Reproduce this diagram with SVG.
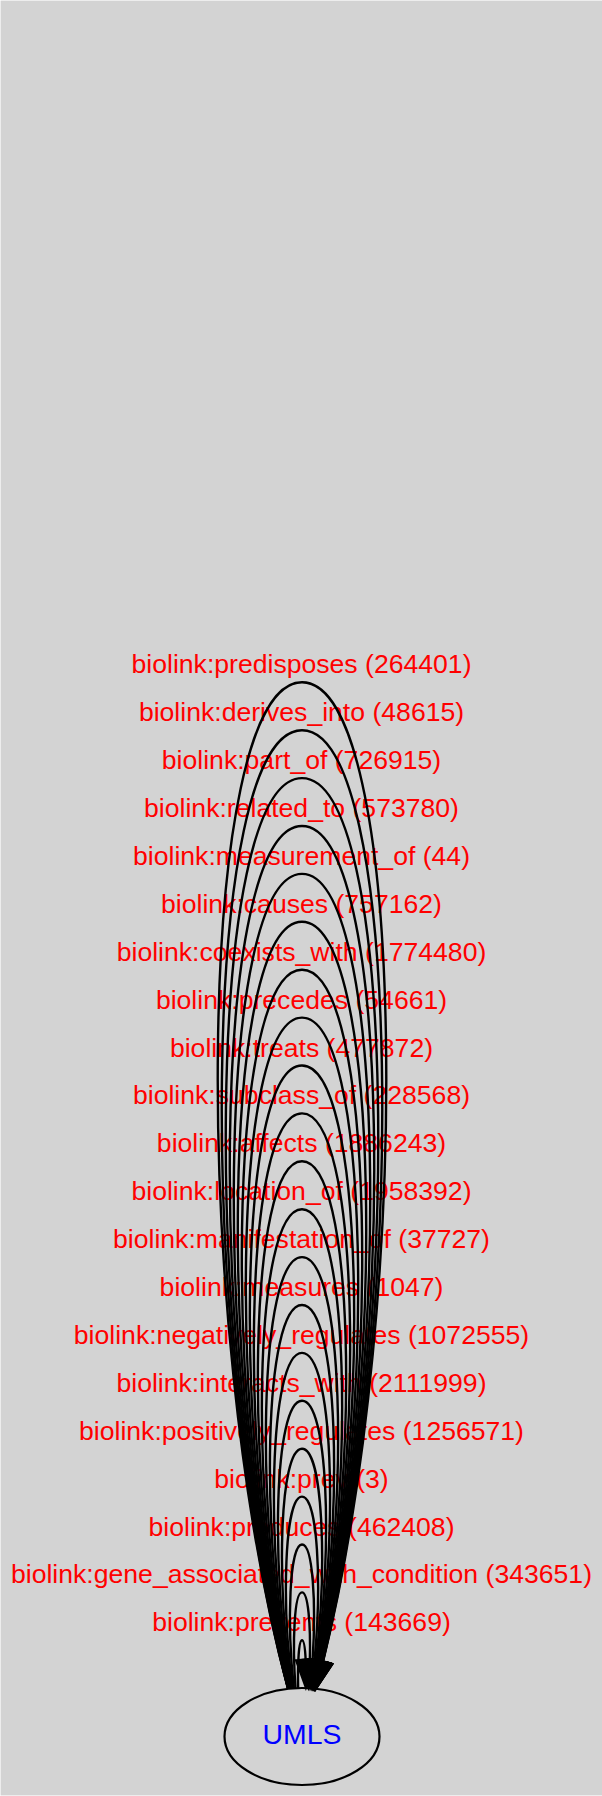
<svg xmlns="http://www.w3.org/2000/svg" width="602" height="1796" viewBox="0 0 602 1796">
<style>
.bg{fill:#d3d3d3;stroke:none}
.lbl{font-family:"Liberation Sans",Arial,Helvetica,sans-serif;font-size:26.6px;fill:#ff0000;text-anchor:middle}
.edge path{fill:none;stroke:#000;stroke-width:2.4}
.edge polygon{fill:#000;stroke:#000;stroke-width:2}
.node ellipse{fill:none;stroke:#000;stroke-width:2.2}
.node text{font-family:"Liberation Sans",Arial,Helvetica,sans-serif;font-size:28.4px;fill:#0000ff;text-anchor:middle}
</style>
<rect class="bg" x="0.6" y="0.6" width="601.4" height="1794.8"/>
<g id="edge-labels">
<text class="lbl" x="301.5" y="673.3">biolink:predisposes (264401)</text>
<text class="lbl" x="301.5" y="721.2">biolink:derives_into (48615)</text>
<text class="lbl" x="301.5" y="769.1">biolink:part_of (726915)</text>
<text class="lbl" x="301.5" y="817">biolink:related_to (573780)</text>
<text class="lbl" x="301.5" y="864.9">biolink:measurement_of (44)</text>
<text class="lbl" x="301.5" y="912.8">biolink:causes (757162)</text>
<text class="lbl" x="301.5" y="960.7">biolink:coexists_with (1774480)</text>
<text class="lbl" x="301.5" y="1008.6">biolink:precedes (54661)</text>
<text class="lbl" x="301.5" y="1056.5">biolink:treats (477872)</text>
<text class="lbl" x="301.5" y="1104.4">biolink:subclass_of (228568)</text>
<text class="lbl" x="301.5" y="1152.3">biolink:affects (1886243)</text>
<text class="lbl" x="301.5" y="1200.2">biolink:location_of (1958392)</text>
<text class="lbl" x="301.5" y="1248.1">biolink:manifestation_of (37727)</text>
<text class="lbl" x="301.5" y="1296">biolink:measures (1047)</text>
<text class="lbl" x="301.5" y="1343.9">biolink:negatively_regulates (1072555)</text>
<text class="lbl" x="301.5" y="1391.8">biolink:interacts_with (2111999)</text>
<text class="lbl" x="301.5" y="1439.7">biolink:positively_regulates (1256571)</text>
<text class="lbl" x="301.5" y="1487.6">biolink:prev (3)</text>
<text class="lbl" x="301.5" y="1535.5">biolink:produces (462408)</text>
<text class="lbl" x="301.5" y="1583.4">biolink:gene_associated_with_condition (343651)</text>
<text class="lbl" x="301.5" y="1631.3">biolink:prevents (143669)</text>
</g>
<g id="connectors">
<g class="edge" id="edge0"><path d="M298.13,1688.05 C297.53,1662.93 298.82,1640.3 302,1640.3 C303.89,1640.3 305.11,1648.3 305.67,1660.05"/><polygon points="295.87,1660.12 305.87,1688.05 315.47,1659.98"/></g>
<g class="edge" id="edge1"><path d="M295.54,1688.17 C292.13,1642.3 294.29,1592.4 302,1592.4 C308.15,1592.4 310.77,1624.1 309.84,1660.2"/><polygon points="300.05,1659.72 308.46,1688.17 319.63,1660.68"/></g>
<g class="edge" id="edge2"><path d="M293.88,1688.27 C286.69,1623.4 289.4,1544.5 302,1544.5 C312.83,1544.5 316.35,1602.8 312.57,1660.37"/><polygon points="302.8,1659.51 310.12,1688.27 322.34,1661.23"/></g>
<g class="edge" id="edge3"><path d="M292.71,1688.35 C281.26,1605.3 284.36,1496.6 302,1496.6 C317.73,1496.6 321.9,1583 314.5,1660.53"/><polygon points="304.76,1659.41 311.29,1688.35 324.24,1661.65"/></g>
<g class="edge" id="edge4"><path d="M291.87,1688.42 C275.84,1587.9 279.22,1448.7 302,1448.7 C322.75,1448.7 327.4,1564.1 315.97,1660.68"/><polygon points="306.26,1659.34 312.13,1688.42 325.68,1662.02"/></g>
<g class="edge" id="edge5"><path d="M291.2,1688.47 C270.43,1570.7 274.03,1400.8 302,1400.8 C327.84,1400.8 332.88,1545.8 317.12,1660.8"/><polygon points="307.44,1659.29 312.8,1688.47 326.8,1662.31"/></g>
<g class="edge" id="edge6"><path d="M290.68,1688.52 C265.03,1553.8 268.81,1352.9 302,1352.9 C332.99,1352.9 338.34,1528.1 318.03,1660.92"/><polygon points="308.37,1659.27 313.32,1688.52 327.69,1662.57"/></g>
<g class="edge" id="edge7"><path d="M290.26,1688.56 C259.64,1537.1 263.56,1305 302,1305 C338.17,1305 343.77,1510.5 318.8,1661.01"/><polygon points="309.16,1659.24 313.74,1688.56 328.44,1662.78"/></g>
<g class="edge" id="edge8"><path d="M289.91,1688.6 C254.26,1520.5 258.29,1257.1 302,1257.1 C343.39,1257.1 349.2,1493.3 319.42,1661.1"/><polygon points="309.79,1659.23 314.09,1688.6 329.05,1662.97"/></g>
<g class="edge" id="edge9"><path d="M289.61,1688.62 C248.88,1504 253.01,1209.2 302,1209.2 C348.63,1209.2 354.62,1476.2 319.97,1661.17"/><polygon points="310.36,1659.22 314.39,1688.62 329.58,1663.12"/></g>
<g class="edge" id="edge10"><path d="M289.36,1688.65 C243.5,1487.6 247.72,1161.3 302,1161.3 C353.88,1161.3 360.03,1459.3 320.44,1661.25"/><polygon points="310.85,1659.22 314.64,1688.65 330.03,1663.28"/></g>
<g class="edge" id="edge11"><path d="M289.15,1688.67 C238.13,1471.2 242.42,1113.4 302,1113.4 C359.14,1113.4 365.42,1442.5 320.84,1661.3"/><polygon points="311.26,1659.2 314.85,1688.67 330.42,1663.4"/></g>
<g class="edge" id="edge12"><path d="M288.96,1688.69 C232.76,1454.9 237.11,1065.5 302,1065.5 C364.41,1065.5 370.82,1425.8 321.21,1661.36"/><polygon points="311.64,1659.2 315.04,1688.69 330.78,1663.52"/></g>
<g class="edge" id="edge13"><path d="M288.78,1688.71 C227.4,1438.6 231.8,1017.6 302,1017.6 C369.7,1017.6 376.21,1409.2 321.52,1661.41"/><polygon points="311.96,1659.2 315.22,1688.71 331.08,1663.62"/></g>
<g class="edge" id="edge14"><path d="M288.63,1688.73 C222.03,1422.3 226.48,969.7 302,969.7 C375,969.7 381.59,1392.7 321.8,1661.46"/><polygon points="312.26,1659.21 315.37,1688.73 331.34,1663.71"/></g>
<g class="edge" id="edge15"><path d="M288.49,1688.74 C216.67,1406.1 221.17,921.8 302,921.8 C380.29,921.8 386.98,1376.2 322.06,1661.5"/><polygon points="312.53,1659.21 315.51,1688.74 331.59,1663.79"/></g>
<g class="edge" id="edge16"><path d="M288.38,1688.75 C211.3,1389.9 215.84,873.9 302,873.9 C385.59,873.9 392.36,1359.7 322.29,1661.53"/><polygon points="312.76,1659.2 315.62,1688.75 331.82,1663.86"/></g>
<g class="edge" id="edge17"><path d="M288.26,1688.77 C205.94,1373.8 210.52,826 302,826 C390.9,826 397.73,1343.3 322.48,1661.58"/><polygon points="312.96,1659.22 315.74,1688.77 332,1663.94"/></g>
<g class="edge" id="edge18"><path d="M288.16,1688.78 C200.58,1357.6 205.19,778.1 302,778.1 C396.21,778.1 403.1,1326.9 322.69,1661.61"/><polygon points="313.18,1659.21 315.84,1688.78 332.2,1664.01"/></g>
<g class="edge" id="edge19"><path d="M288.08,1688.79 C195.22,1341.5 199.86,730.2 302,730.2 C401.53,730.2 408.48,1310.6 322.86,1661.65"/><polygon points="313.36,1659.22 315.92,1688.79 332.36,1664.08"/></g>
<g class="edge" id="edge20"><path d="M287.99,1688.8 C189.86,1325.3 194.53,682.3 302,682.3 C406.85,682.3 413.85,1294.4 323.01,1661.68"/><polygon points="313.52,1659.23 316.01,1688.8 332.5,1664.13"/></g>
</g>
<g class="node" id="node_UMLS">
<ellipse cx="302" cy="1736.5" rx="77.5" ry="48.5"/>
<text x="302" y="1744">UMLS</text>
</g>
</svg>
